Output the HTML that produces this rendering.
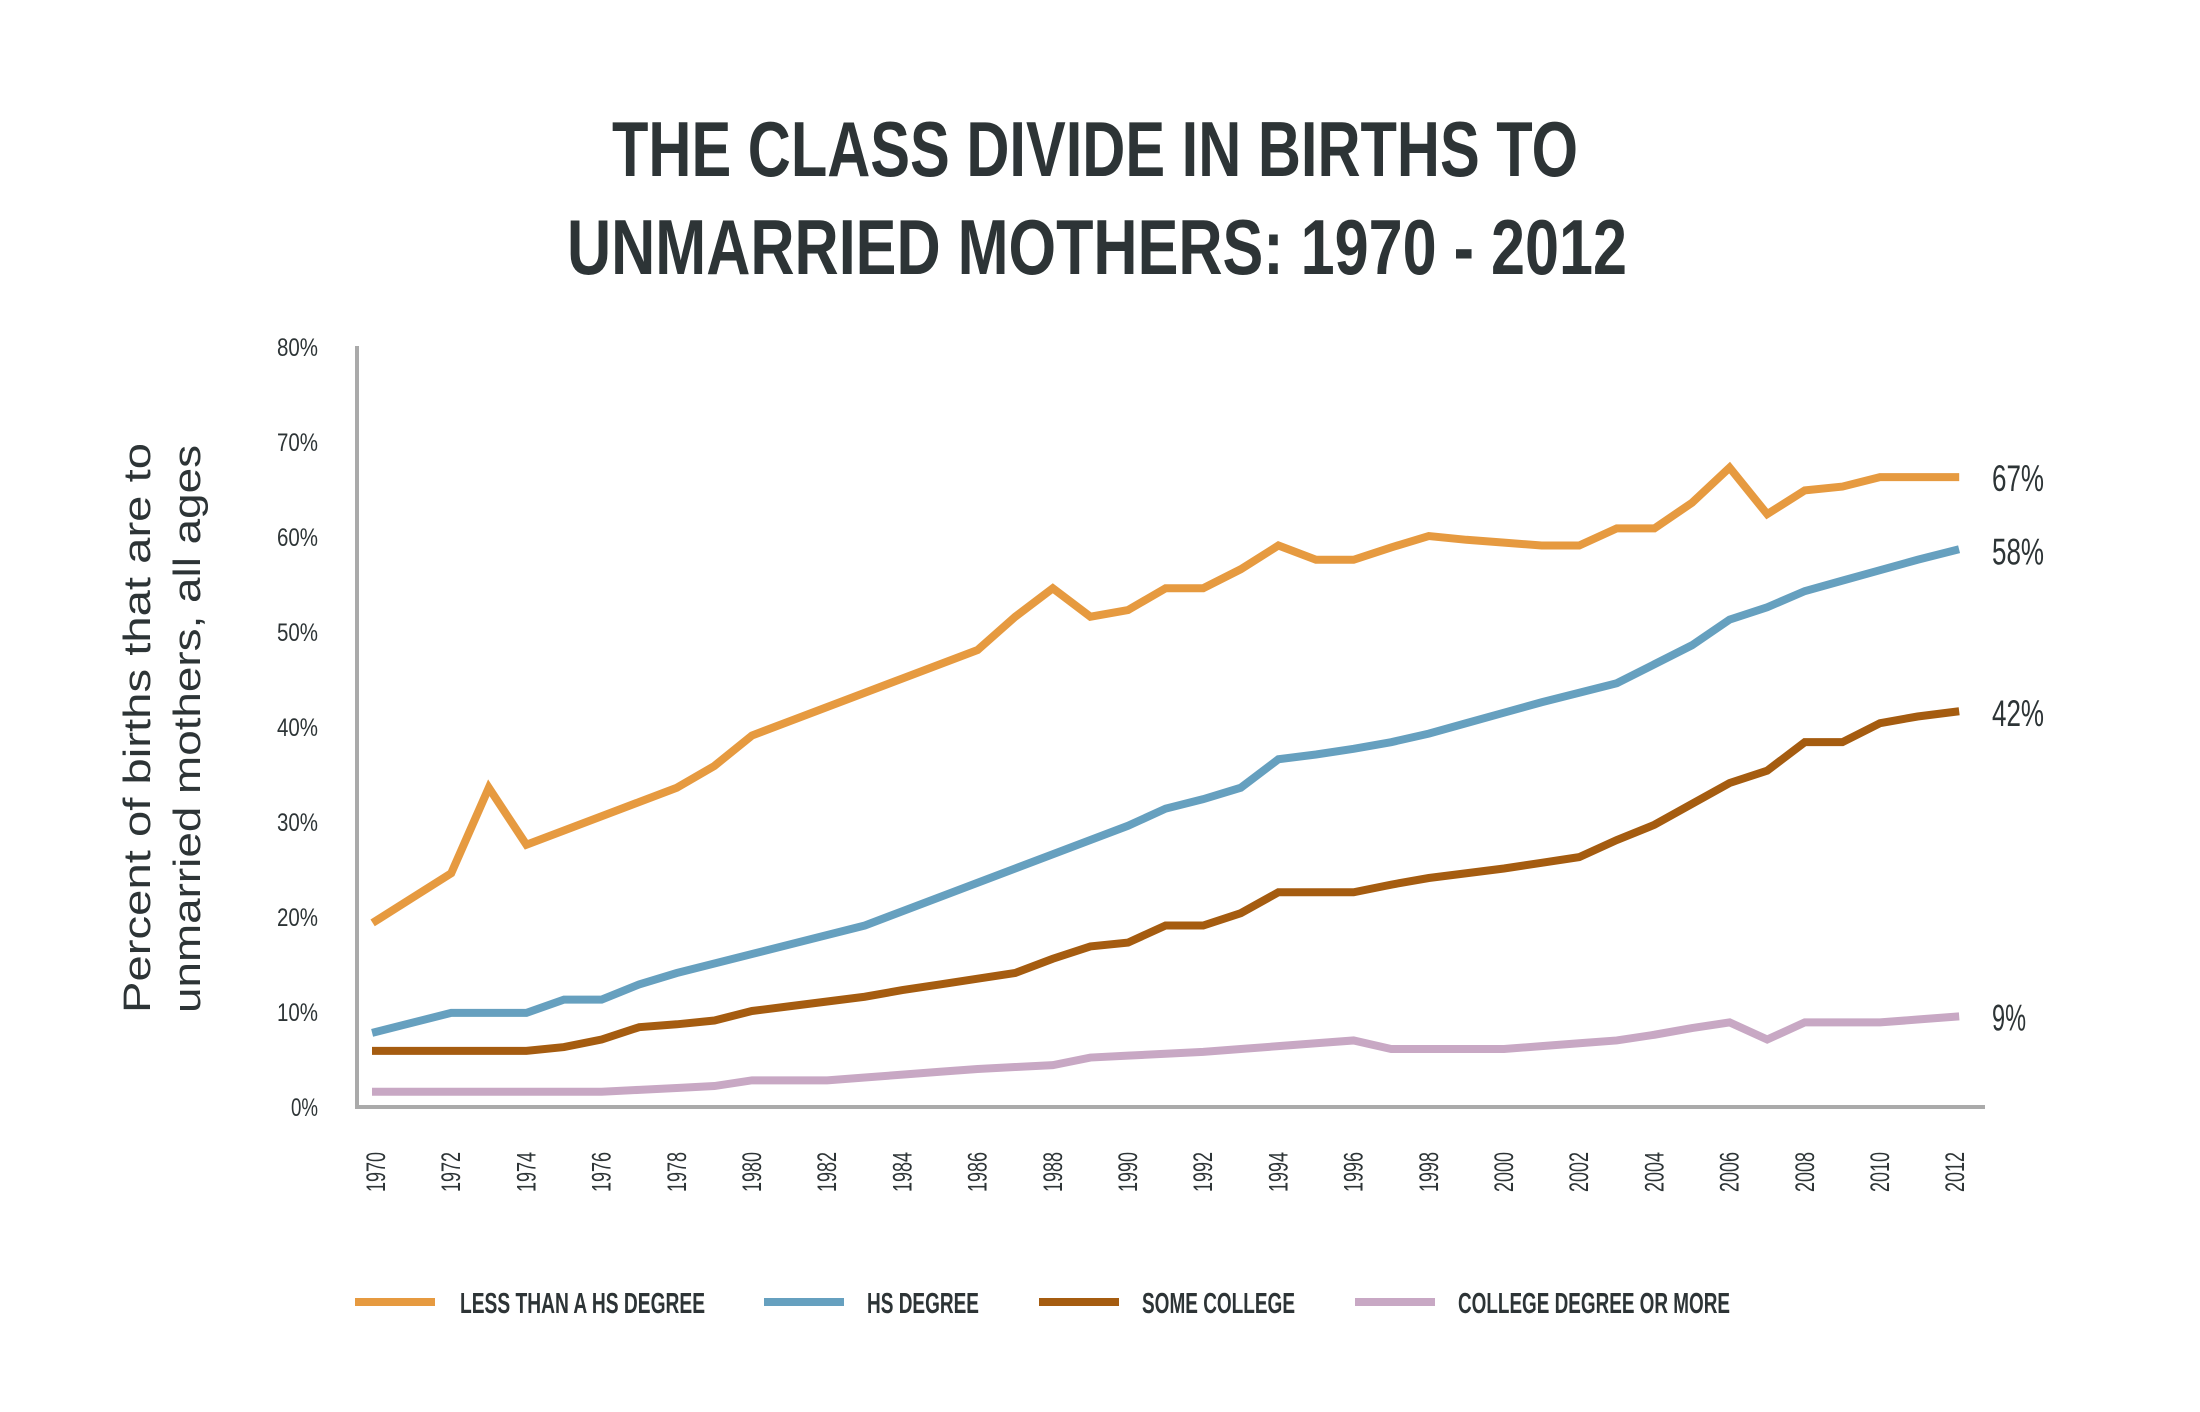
<!DOCTYPE html>
<html><head><meta charset="utf-8"><style>
html,body{margin:0;padding:0;background:#fff;}
svg{display:block;}
text{font-family:"Liberation Sans Narrow","Liberation Sans",sans-serif;fill:#2d3436;}
</style></head><body>
<svg id="chart" width="2200" height="1412" viewBox="0 0 2200 1412">
<g>
<text x="612" y="176" font-size="78" font-weight="bold" textLength="966" lengthAdjust="spacingAndGlyphs">THE CLASS DIVIDE IN BIRTHS TO</text>
<text x="567" y="274" font-size="78" font-weight="bold" textLength="1060" lengthAdjust="spacingAndGlyphs">UNMARRIED MOTHERS: 1970 - 2012</text>
</g>
<g>
<text transform="translate(150,1013) rotate(-90)" font-size="38" textLength="570" lengthAdjust="spacingAndGlyphs" style="font-family:'Liberation Sans',sans-serif">Percent of births that are to</text>
<text transform="translate(200,1013) rotate(-90)" font-size="38" textLength="568" lengthAdjust="spacingAndGlyphs" style="font-family:'Liberation Sans',sans-serif">unmarried mothers, all ages</text>
</g>
<line x1="357" y1="346" x2="357" y2="1107" stroke="#aaaaaa" stroke-width="4"/>
<line x1="355" y1="1107" x2="1985" y2="1107" stroke="#aaaaaa" stroke-width="4"/>
<g id="yticks"></g><g id="xticks"></g><g id="series"></g><g id="endlabels"></g>
<g>
<rect x="355" y="1298" width="80" height="8" fill="#e69a40"/>
<text x="460" y="1313" font-size="29" font-weight="bold" textLength="245" lengthAdjust="spacingAndGlyphs" fill="#3d4447">LESS THAN A HS DEGREE</text>
<rect x="764" y="1298" width="80" height="8" fill="#66a0bf"/>
<text x="867" y="1313" font-size="29" font-weight="bold" textLength="112" lengthAdjust="spacingAndGlyphs">HS DEGREE</text>
<rect x="1039" y="1298" width="80" height="8" fill="#a55c10"/>
<text x="1142" y="1313" font-size="29" font-weight="bold" textLength="153" lengthAdjust="spacingAndGlyphs">SOME COLLEGE</text>
<rect x="1355" y="1298" width="80" height="8" fill="#c8a8c4"/>
<text x="1458" y="1313" font-size="29" font-weight="bold" textLength="272" lengthAdjust="spacingAndGlyphs">COLLEGE DEGREE OR MORE</text>
</g>
</svg>
<script>
const years = [];
for (let y = 1970; y <= 2012; y++) years.push(y);
const lessThanHS = [19.5,22,24.5,33.5,27.5,29,30.5,32,33.5,35.8,39,40.5,42,43.5,45,46.5,48,51.5,54.5,51.5,52.2,54.5,54.5,56.5,59,57.5,57.5,58.8,60,59.6,59.3,59,59,60.8,60.8,63.5,67.2,62.3,64.8,65.2,66.2,66.2,66.2];
const hsDegree = [7.8,8.8,9.8,9.8,9.8,11.2,11.2,12.8,14,15,16,17,18,19,20.5,22,23.5,25,26.5,28,29.5,31.3,32.3,33.5,36.5,37,37.6,38.3,39.2,40.3,41.4,42.5,43.5,44.5,46.5,48.5,51.2,52.5,54.2,55.3,56.4,57.5,58.5];
const someCollege = [5.8,5.8,5.8,5.8,5.8,6.2,7,8.3,8.6,9,10,10.5,11,11.5,12.2,12.8,13.4,14,15.5,16.8,17.2,19,19,20.3,22.5,22.5,22.5,23.3,24,24.5,25,25.6,26.2,28,29.6,31.8,34,35.3,38.3,38.3,40.3,41,41.5];
const collegePlus = [1.5,1.5,1.5,1.5,1.5,1.5,1.5,1.7,1.9,2.1,2.7,2.7,2.7,3,3.3,3.6,3.9,4.1,4.3,5.1,5.3,5.5,5.7,6,6.3,6.6,6.9,6,6,6,6,6.3,6.6,6.9,7.5,8.2,8.8,7,8.8,8.8,8.8,9.1,9.4];
const yTicks = [0,10,20,30,40,50,60,70,80];
const xTickYears = [1970,1972,1974,1976,1978,1980,1982,1984,1986,1988,1990,1992,1994,1996,1998,2000,2002,2004,2006,2008,2010,2012];
const endLabels = ["67%","58%","42%","9%"];

const NS = "http://www.w3.org/2000/svg";
const xs = y => 376 + (y - 1970) * 37.6;
const ys = v => 1106 - v * 9.5;
function mk(tag, attrs, parent) {
  const e = document.createElementNS(NS, tag);
  for (const k in attrs) e.setAttribute(k, attrs[k]);
  parent.appendChild(e);
  return e;
}
const yt = document.getElementById('yticks');
yTicks.forEach(v => {
  const lab = v + '%';
  const w = lab.length === 2 ? 27 : 41;
  const t = mk('text', {x: 318 - w, y: ys(v) + 10, 'font-size': 25, textLength: w, lengthAdjust: 'spacingAndGlyphs'}, yt);
  
  
  t.textContent = lab;
});
const xt = document.getElementById('xticks');
xTickYears.forEach(yr => {
  const cx = xs(yr) + 9;
  const t = mk('text', {transform: `translate(${cx},1192) rotate(-90)`, 'font-size': 27, textLength: 40, lengthAdjust: 'spacingAndGlyphs'}, xt);
  
  
  t.textContent = yr;
});
const series = [
  {vals: collegePlus, color: '#c8a8c4', name: 'line-college-degree'},
  {vals: someCollege, color: '#a55c10', name: 'line-some-college'},
  {vals: hsDegree, color: '#66a0bf', name: 'line-hs-degree'},
  {vals: lessThanHS, color: '#e69a40', name: 'line-less-than-hs'}
];
const sg = document.getElementById('series');
series.forEach(s => {
  const pts = s.vals.map((v, i) => xs(years[i]) + ',' + ys(v)).join(' ');
  const p = mk('polyline', {points: pts, fill: 'none', stroke: s.color, 'stroke-width': 8, 'stroke-linejoin': 'miter', 'stroke-linecap': 'square'}, sg);
  
  
});
const eg = document.getElementById('endlabels');
const endVals = [lessThanHS, hsDegree, someCollege, collegePlus].map(a => a[a.length - 1]);
endLabels.forEach((lab, i) => {
  const w = lab.length === 2 ? 34 : 52;
  const t = mk('text', {x: 1992, y: ys(endVals[i]) + 14, 'font-size': 37, textLength: w, lengthAdjust: 'spacingAndGlyphs'}, eg);
  
  
  t.textContent = lab;
});
</script>
</body></html>
